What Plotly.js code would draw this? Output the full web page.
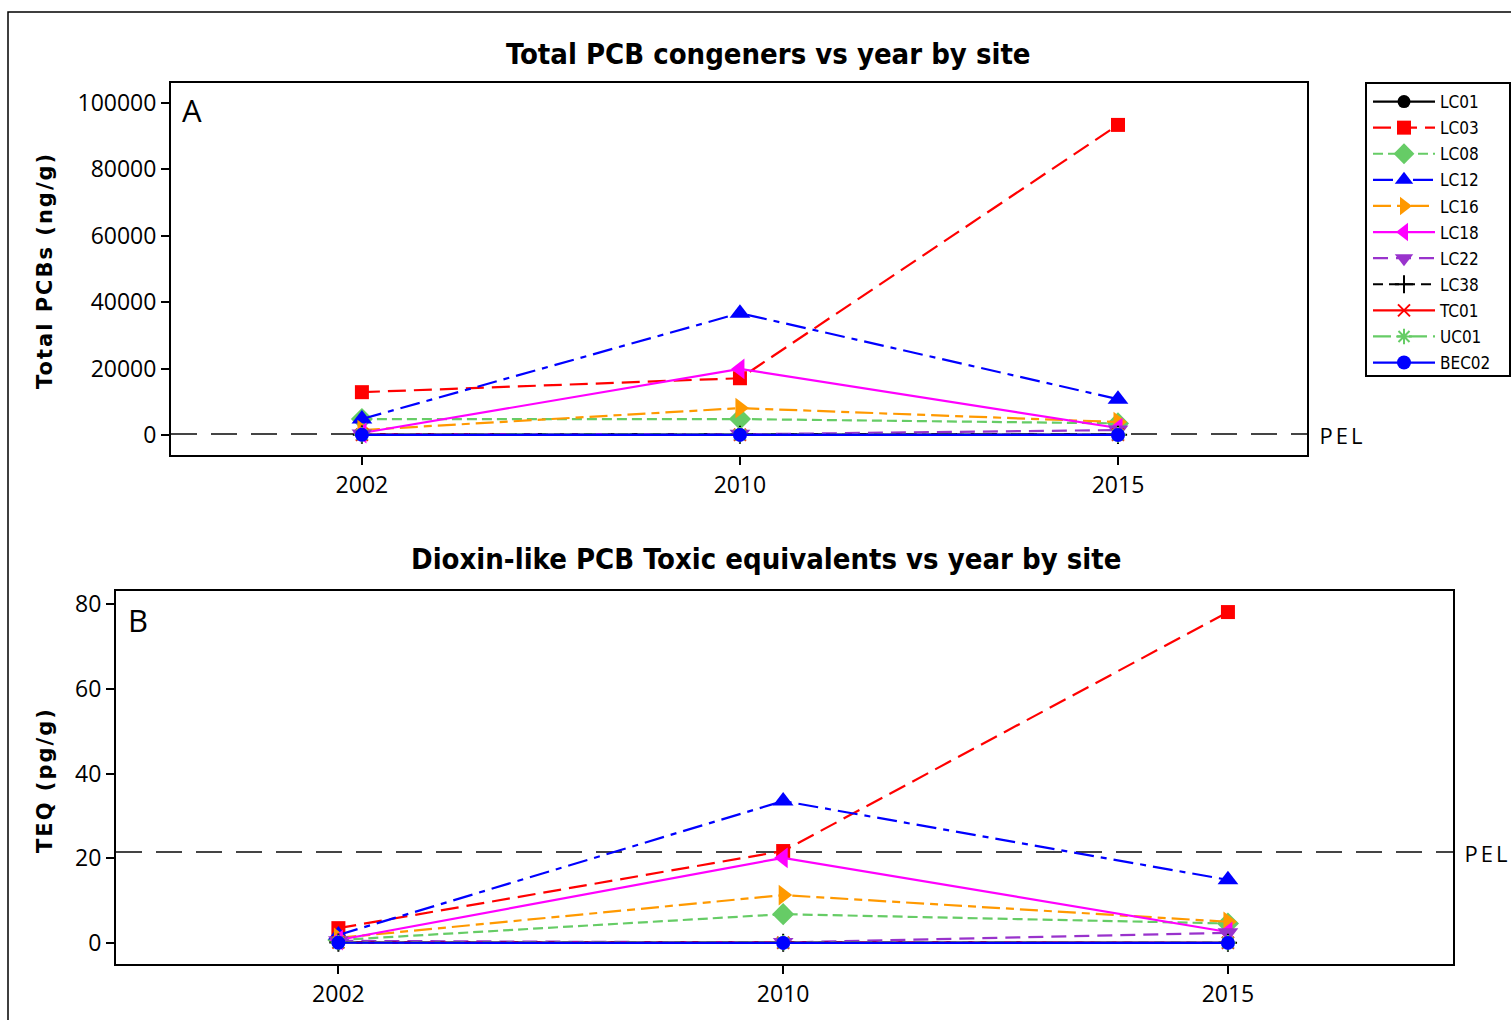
<!DOCTYPE html>
<html>
<head>
<meta charset="utf-8">
<script src="https://cdn.plot.ly/plotly-3.0.1.min.js"></script>
<style>
html,body{margin:0;padding:0;background:#fff;}
#chart{width:1511px;height:1020px;}
.annotation[data-index="2"] .annotation-text,
.annotation[data-index="3"] .annotation-text{letter-spacing:2px;}
.annotation[data-index="6"] .annotation-text,
.annotation[data-index="7"] .annotation-text{letter-spacing:3px;}
</style>
</head>
<body>
<div id="chart"></div>
<script>
const years = ['2002', '2010', '2015'];
const sites = ['LC01', 'LC03', 'LC08', 'LC12', 'LC16', 'LC18', 'LC22', 'LC38', 'TC01', 'UC01', 'BEC02'];

// Total PCB congeners (ng/g)
const pcbLC01 = [150, 120, 100];
const pcbLC03 = [12900, 17100, 93400];
const pcbLC08 = [4800, 4800, 3500];
const pcbLC12 = [4800, 36700, 10800];
const pcbLC16 = [1500, 8100, 3900];
const pcbLC18 = [600, 19900, 2100];
const pcbLC22 = [300, 200, 1500];
const pcbLC38 = [100, 80, 60];
const pcbTC01 = [90, 60, 50];
const pcbUC01 = [120, 70, 40];
const pcbBEC02 = [50, 30, 20];

// Dioxin-like PCB TEQ (pg/g)
const teqLC01 = [0.1, 0.05, 0.05];
const teqLC03 = [3.5, 21.7, 78.1];
const teqLC08 = [0.7, 6.8, 4.6];
const teqLC12 = [1.9, 33.5, 14.9];
const teqLC16 = [1.2, 11.3, 5.0];
const teqLC18 = [0.7, 20.1, 2.6];
const teqLC22 = [0.5, 0.1, 2.4];
const teqLC38 = [0.1, 0.05, 0.05];
const teqTC01 = [0.1, 0.05, 0.05];
const teqUC01 = [0.1, 0.05, 0.05];
const teqBEC02 = [0.05, 0.02, 0.02];

const pelPCB = 277;
const pelTEQ = 21.5;

const pcbData = [pcbLC01, pcbLC03, pcbLC08, pcbLC12, pcbLC16, pcbLC18, pcbLC22, pcbLC38, pcbTC01, pcbUC01, pcbBEC02];
const teqData = [teqLC01, teqLC03, teqLC08, teqLC12, teqLC16, teqLC18, teqLC22, teqLC38, teqTC01, teqUC01, teqBEC02];

const styles = [
  {color: '#000000', dash: 'solid', symbol: 'circle', size: 13},
  {color: '#ff0000', dash: '18px,8px', symbol: 'square', size: 14},
  {color: '#66cc66', dash: '10px,5px', symbol: 'diamond', size: 17},
  {color: '#0000ff', dash: '20px,7px,6px,7px', symbol: 'triangle-up', size: 18},
  {color: '#ff9900', dash: '18px,6px,8px,6px', symbol: 'triangle-right', size: 18},
  {color: '#ff00ff', dash: 'solid', symbol: 'triangle-left', size: 18},
  {color: '#9933cc', dash: '15px,8px', symbol: 'triangle-down', size: 18},
  {color: '#000000', dash: '10px,6px', symbol: 'cross-thin-open', size: 13},
  {color: '#ff0000', dash: 'solid', symbol: 'x-thin-open', size: 12},
  {color: '#66cc66', dash: '18px,6px,6px,6px', symbol: 'asterisk-open', size: 13},
  {color: '#0000ff', dash: 'solid', symbol: 'circle', size: 14}
];

const traces = [];
sites.forEach((s, i) => {
  const st = styles[i];
  const mk = {symbol: st.symbol, size: st.size, color: st.color,
    line: {color: st.color, width: st.symbol.indexOf('open') >= 0 ? 2 : 0}};
  traces.push({x: years, y: pcbData[i], name: s, xaxis: 'x', yaxis: 'y', mode: 'lines+markers',
    line: {color: st.color, width: 2.2, dash: st.dash}, marker: mk, legendgroup: s, cliponaxis: false});
  traces.push({x: years, y: teqData[i], name: s, xaxis: 'x2', yaxis: 'y2', mode: 'lines+markers',
    line: {color: st.color, width: 2.2, dash: st.dash}, marker: mk, legendgroup: s, showlegend: false, cliponaxis: false});
});

const W = 1511, H = 1020;
const px = v => v / W, py = v => 1 - v / H;

const axisCommon = {
  showline: true, mirror: true, linecolor: '#000', linewidth: 2,
  ticks: 'outside', ticklen: 8, tickwidth: 2, tickcolor: '#000',
  showgrid: false, zeroline: false, tickformat: 'd',
  tickfont: {family: 'Open Sans, sans-serif', size: 23, color: '#000'}
};

const titleFont = {family: 'DejaVu Sans Condensed, DejaVu Sans, sans-serif', size: 29, color: '#000'};
const labFont = {family: 'DejaVu Sans, sans-serif', size: 21, color: '#000'};

const layout = {
  width: W, height: H,
  margin: {l: 0, r: 0, t: 0, b: 0},
  paper_bgcolor: '#fff', plot_bgcolor: '#fff',
  showlegend: true,
  legend: {
    x: px(1368), y: py(84), xanchor: 'left', yanchor: 'top',
    borderwidth: 0, bgcolor: 'rgba(0,0,0,0)',
    font: {family: 'DejaVu Sans Condensed, DejaVu Sans, sans-serif', size: 17, color: '#000'},
    tracegroupgap: 1, itemwidth: 62
  },
  xaxis: Object.assign({}, axisCommon, {type: 'category', domain: [px(171), px(1307)], range: [-0.505, 2.5], anchor: 'y'}),
  yaxis: Object.assign({}, axisCommon, {domain: [py(455), py(83)], range: [-6024, 106024], anchor: 'x',
    tickvals: [0, 20000, 40000, 60000, 80000, 100000]}),
  xaxis2: Object.assign({}, axisCommon, {type: 'category', domain: [px(116), px(1453)], range: [-0.5, 2.506], anchor: 'y2'}),
  yaxis2: Object.assign({}, axisCommon, {domain: [py(964), py(591)], range: [-4.96, 83.07], anchor: 'x2',
    tickvals: [0, 20, 40, 60, 80]}),
  shapes: [
    {type: 'line', xref: 'x', yref: 'y', x0: -0.505, x1: 2.5, y0: pelPCB, y1: pelPCB,
      line: {color: '#444', width: 2, dash: '26px,14px'}, layer: 'below'},
    {type: 'line', xref: 'x2', yref: 'y2', x0: -0.5, x1: 2.506, y0: pelTEQ, y1: pelTEQ,
      line: {color: '#444', width: 2, dash: '26px,14px'}, layer: 'below'},
    {type: 'rect', xref: 'paper', yref: 'paper', x0: px(8), x1: 1.01, y0: -0.01, y1: py(12),
      line: {color: '#000', width: 1.5}, fillcolor: 'rgba(0,0,0,0)'},
    {type: 'rect', xref: 'paper', yref: 'paper', x0: px(1366), x1: px(1510), y0: py(376), y1: py(83),
      line: {color: '#000', width: 2}, fillcolor: 'rgba(0,0,0,0)'}
  ],
  annotations: [
    {text: '<b>Total PCB congeners vs year by site</b>', xref: 'paper', yref: 'paper', x: px(768), y: py(54),
      xanchor: 'center', yanchor: 'middle', showarrow: false, font: titleFont},
    {text: '<b>Dioxin-like PCB Toxic equivalents vs year by site</b>', xref: 'paper', yref: 'paper', x: px(766), y: py(559),
      xanchor: 'center', yanchor: 'middle', showarrow: false, font: titleFont},
    {text: '<b>Total PCBs (ng/g)</b>', xref: 'paper', yref: 'paper', x: px(45), y: py(271), textangle: -90,
      xanchor: 'center', yanchor: 'middle', showarrow: false, font: labFont},
    {text: '<b>TEQ (pg/g)</b>', xref: 'paper', yref: 'paper', x: px(45), y: py(780), textangle: -90,
      xanchor: 'center', yanchor: 'middle', showarrow: false, font: labFont},
    {text: 'A', xref: 'paper', yref: 'paper', x: px(180), y: py(110), xanchor: 'left', yanchor: 'middle',
      showarrow: false, font: {family: 'Open Sans, sans-serif', size: 31, color: '#000'}},
    {text: 'B', xref: 'paper', yref: 'paper', x: px(126), y: py(620), xanchor: 'left', yanchor: 'middle',
      showarrow: false, font: {family: 'Open Sans, sans-serif', size: 31, color: '#000'}},
    {text: 'PEL', xref: 'paper', yref: 'paper', x: px(1322), y: py(435), xanchor: 'left', yanchor: 'middle',
      showarrow: false, font: {family: 'Open Sans, sans-serif', size: 22, color: '#000'}},
    {text: 'PEL', xref: 'paper', yref: 'paper', x: px(1467), y: py(853), xanchor: 'left', yanchor: 'middle',
      showarrow: false, font: {family: 'Open Sans, sans-serif', size: 22, color: '#000'}}
  ]
};

Plotly.newPlot('chart', traces, layout, {displayModeBar: false, staticPlot: true});
</script>
</body>
</html>
